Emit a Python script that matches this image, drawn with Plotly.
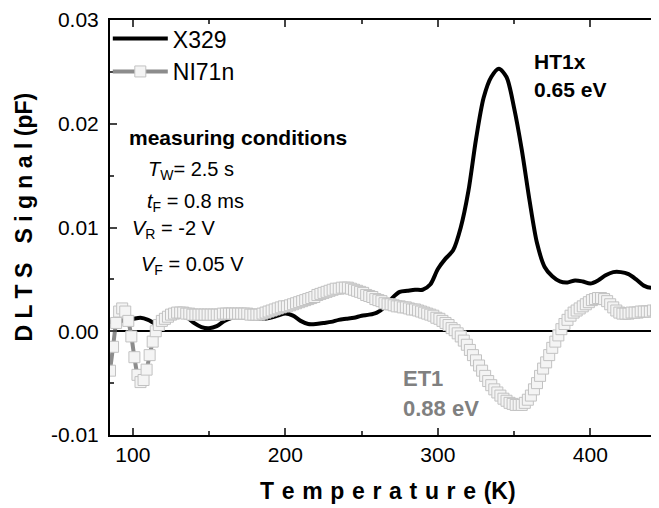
import plotly.graph_objects as go

# ---- data ----
temp_x329 = list(range(85, 446, 5))
sig_x329 = [0.0009, 0.0009, 0.0011, 0.0012, 0.0013, 0.0011, 0.0007, 0.0006, 0.0011, 0.0016,
            0.0014, 0.0008, 0.0004, 0.0003, 0.0005, 0.0010, 0.0013, 0.0014, 0.0013, 0.0012,
            0.0012, 0.0013, 0.0015, 0.0017, 0.0015, 0.0010, 0.0007, 0.0007, 0.0008, 0.0009,
            0.0011, 0.0012, 0.0013, 0.0015, 0.0016, 0.0018, 0.0023, 0.0032, 0.0038, 0.0039,
            0.0040, 0.0040, 0.0045, 0.0060, 0.0070, 0.0078, 0.0100, 0.0135, 0.0185, 0.0225,
            0.0245, 0.0253, 0.0245, 0.0215, 0.0175, 0.0127, 0.0085, 0.0062, 0.0053, 0.0048,
            0.0047, 0.0049, 0.0048, 0.0046, 0.0049, 0.0054, 0.0057, 0.0057, 0.0055, 0.0050,
            0.0044, 0.0042, 0.0045]

temp_ni71n = list(range(85, 446, 2))
sig_ni71n = [
    -0.0038, -0.0015, 0.0008, 0.0019, 0.0022, 0.0019, 0.0010, -0.0005, -0.0025, -0.0042,
    -0.0049, -0.0047, -0.0037, -0.0023, -0.0010, 0.0000, 0.0006, 0.0010, 0.0012, 0.0014,
    0.0016, 0.0017, 0.0018, 0.0018, 0.0018, 0.0017, 0.0017, 0.0016, 0.0016, 0.0016,
    0.0016, 0.0016, 0.0016, 0.0016, 0.0016, 0.0016, 0.0016, 0.0017, 0.0017, 0.0017,
    0.0017, 0.0017, 0.0017, 0.0017, 0.0017, 0.0017, 0.0016, 0.0016, 0.0016, 0.0016,
    0.0017, 0.0018, 0.0019, 0.0020, 0.0021, 0.0022, 0.0023, 0.0024, 0.0024, 0.0025,
    0.0026, 0.0027, 0.0028, 0.0029, 0.0030, 0.0031, 0.0032, 0.0033, 0.0035, 0.0036,
    0.0037, 0.0038, 0.0039, 0.0040, 0.0041, 0.0041, 0.0042, 0.0042, 0.0042, 0.0041,
    0.0040, 0.0039, 0.0038, 0.0037, 0.0035, 0.0034, 0.0033, 0.0031, 0.0030, 0.0029,
    0.0027, 0.0026, 0.0026, 0.0025, 0.0024, 0.0024, 0.0023, 0.0023, 0.0022, 0.0021,
    0.0021, 0.0020, 0.0019, 0.0018, 0.0017, 0.0016, 0.0015, 0.0013, 0.0012, 0.0010,
    0.0008, 0.0006, 0.0003, 0.0001, -0.0002, -0.0005, -0.0009, -0.0013, -0.0018, -0.0023,
    -0.0028, -0.0033, -0.0038, -0.0043, -0.0048, -0.0052, -0.0056, -0.0059, -0.0062, -0.0065,
    -0.0067, -0.0069, -0.0070, -0.0071, -0.0071, -0.0071, -0.0069, -0.0066, -0.0062, -0.0056,
    -0.0050, -0.0043, -0.0036, -0.0030, -0.0023, -0.0016, -0.0010, -0.0004, 0.0002, 0.0007,
    0.0011, 0.0015, 0.0018, 0.0020, 0.0022, 0.0024, 0.0026, 0.0028, 0.0030, 0.0031,
    0.0032, 0.0032, 0.0031, 0.0029, 0.0026, 0.0023, 0.0020, 0.0018, 0.0017, 0.0017,
    0.0017, 0.0018, 0.0018, 0.0018, 0.0019, 0.0019, 0.0019, 0.0019, 0.0020, 0.0020,
    0.0020]

x_ticks = [100, 200, 300, 400]
y_ticks = [-0.01, 0.00, 0.01, 0.02, 0.03]
y_tick_labels = ["-0.01", "0.00", "0.01", "0.02", "0.03"]

FONT = "Liberation Sans, Arial, sans-serif"
GAP = "\u2004"
NB = "\u00a0"

fig = go.Figure()
fig.add_trace(go.Scatter(
    x=temp_x329, y=sig_x329, name="X329", mode="lines",
    line=dict(color="black", width=4, shape="spline", smoothing=0.8)))
fig.add_trace(go.Scatter(
    x=temp_ni71n, y=sig_ni71n, name="NI71n", mode="lines+markers",
    line=dict(color="#8c8c8c", width=4, shape="spline", smoothing=0.8),
    marker=dict(symbol="square", size=11, color="#f4f4f4",
                line=dict(color="#c2c2c2", width=1))))

annos = [
    dict(x=0.031, y=0.0187, text="<b>measuring conditions</b>", size=21),
    dict(x=0.0654, y=0.0155, text="<i>T</i><sub>W</sub>= 2.5 s", size=20),
    dict(x=0.064, y=0.0124, text="<i>t</i><sub>F</sub> = 0.8 ms", size=20),
    dict(x=0.036, y=0.0098, text="<i>V</i><sub>R</sub> = -2 V", size=20),
    dict(x=0.053, y=0.0063, text="<i>V</i><sub>F</sub> = 0.05 V", size=20),
    dict(x=0.7685, y=0.0260, text="<b>HT1x</b>", size=21),
    dict(x=0.7685, y=0.0233, text="<b>0.65 eV</b>", size=21),
]
for a in annos:
    fig.add_annotation(x=a["x"], y=a["y"], xref="paper", yref="y", text=a["text"],
                       showarrow=False, xanchor="left", yanchor="middle",
                       font=dict(family=FONT, size=a["size"], color="black"))
for txt, yy in [("<b>ET1</b>", -0.0046), ("<b>0.88 eV</b>", -0.0074)]:
    fig.add_annotation(x=0.5297, y=yy, xref="paper", yref="y", text=txt,
                       showarrow=False, xanchor="left", yanchor="middle",
                       font=dict(family=FONT, size=22, color="#808080"))

# axis titles (letter-spaced, as in the reference)
xtitle = "<b>" + GAP.join(list("Temperature")) + GAP + "(K)</b>"
ytitle = "<b>" + " ".join(list("DLTS")) + NB + NB + " " + " ".join(list("Signal")) + " (pF)</b>"
fig.add_annotation(x=0.5055, y=-0.135, xref="paper", yref="paper", text=xtitle,
                   showarrow=False, xanchor="center", yanchor="middle",
                   font=dict(family=FONT, size=23, color="black"))
fig.add_annotation(x=-0.1566, y=0.524, xref="paper", yref="paper", text=ytitle,
                   showarrow=False, xanchor="center", yanchor="middle", textangle=-90,
                   font=dict(family=FONT, size=23, color="black"))

fig.update_layout(
    width=651, height=500,
    margin=dict(l=102, r=0, t=12, b=73),
    paper_bgcolor="white", plot_bgcolor="white",
    font=dict(family=FONT, size=21, color="black"),
    showlegend=True,
    legend=dict(x=-0.004, y=1.007, xanchor="left", yanchor="top",
                bgcolor="rgba(0,0,0,0)", font=dict(family=FONT, size=23),
                itemwidth=55, tracegroupgap=0),
    xaxis=dict(range=[85, 445], tickvals=x_ticks, ticks="inside", ticklen=7, tickwidth=1.5,
               showline=True, linecolor="black", linewidth=2, mirror="ticks",
               showgrid=False, zeroline=False, automargin=False,
               minor=dict(ticks="inside", ticklen=4, tickwidth=1.5, dtick=50, showgrid=False),
               tickfont=dict(size=21), ticklabelstandoff=0),
    yaxis=dict(range=[-0.01, 0.03], tickvals=y_ticks, ticktext=y_tick_labels,
               ticks="inside", ticklen=7, tickwidth=1.5,
               showline=True, linecolor="black", linewidth=2, mirror=False,
               showgrid=False, zeroline=True, zerolinecolor="black", zerolinewidth=1.5,
               automargin=False,
               minor=dict(ticks="inside", ticklen=4, tickwidth=1.5, dtick=0.005, showgrid=False),
               tickfont=dict(size=21), ticklabelstandoff=5),
)

fig.write_html("out.html")
